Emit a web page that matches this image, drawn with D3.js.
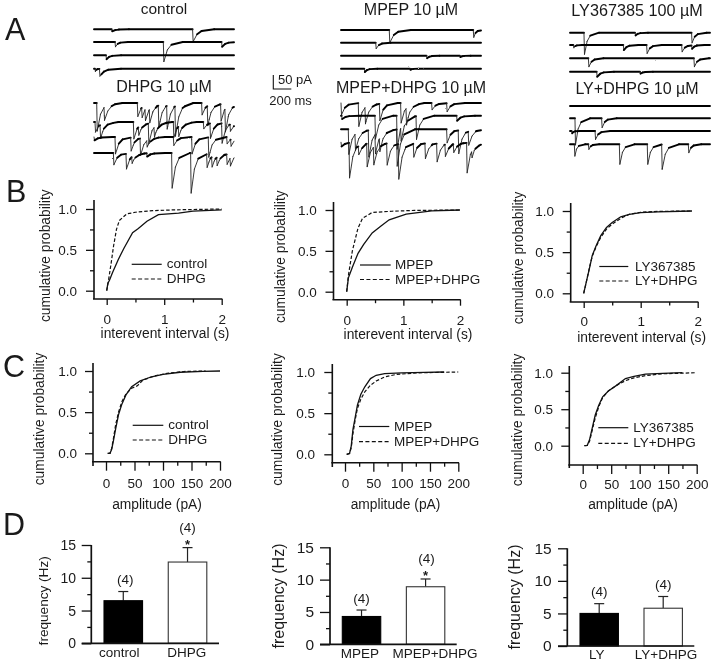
<!DOCTYPE html>
<html><head><meta charset="utf-8">
<script src="https://cdn.jsdelivr.net/npm/d3@7"></script>
<style>
html,body{margin:0;padding:0;background:#fff}
svg{display:block;filter:blur(.3px)}
text{font-family:"Liberation Sans",Arial,sans-serif;fill:#1a1a1a}
</style></head><body><div id="c"></div>
<script>
// ---- Panel A: synaptic events: [onset ms, peak pA, decay ms]
const controlTraces=[[[196,7,80],[1095,44,100]],[[233,17,60],[770,70,90],[1417,17,80]],[[133,14,70]],[[10,10,30],[60,26,100]]];
const dhpgTraces=[
 [[30,100],[111,48],[481,48],[529,36],[566,42],[614,48],[714,77],[807,83],[899,107],[1195,42],[1258,71],[1406,60],[1454,83]],
 [[11,36],[67,48],[437,60],[492,30],[603,71],[666,36],[881,54],[936,36],[1214,24],[1288,54],[1417,71],[1510,24]],
 [[0,12],[233,60],[407,48],[511,60],[585,24],[881,30],[1084,60],[1269,71],[1473,24],[1517,24]],
 [[215,42],[355,54],[418,24],[585,12],[862,125],[1073,143],[1251,48],[1306,36],[1362,30],[1473,36],[1510,30]]];
const mpepTraces=[[[536,45,100],[1469,26,50]],[[385,21,70]],[[950,9,60],[1320,5,50]],[[259,12,60],[766,4,40]]];
const mpepDhpgTraces=[
 [[0,42],[192,83],[266,60],[426,60],[662,71],[722,60],[1006,24],[1173,30]],
 [[7,12],[377,83],[618,119],[662,48],[833,83],[1284,18]],
 [[81,89],[155,60],[303,95],[377,71],[426,48],[618,131],[1173,48],[1302,83],[1413,48]],
 [[0,15],[89,125],[192,30],[285,83],[359,65],[507,77],[636,125],[803,48],[932,54],[1062,65],[1154,42],[1247,30],[1395,107],[1450,24]]];
const lyTraces=[[[155,77,70],[722,10,60],[1350,36,70]],[[37,10,40],[592,18,70],[851,30,70],[1240,24,70],[1350,12,60]],[[204,30,70],[1376,30,70]],[[296,18,80],[777,7,60]]];
const lyDhpgTraces=[[],[[55,95,70],[351,33,70]],[[18,8,40],[278,30,70]],[[48,42,50],[204,18,50],[548,71,70],[858,71,70],[1018,89,80],[1314,30,60]]];

// ---- Panels B: cumulative interevent interval [s, P]
const intControl=[[0,0],[.02,.09],[.05,.13],[.1,.22],[.2,.38],[.3,.52],[.45,.71],[.55,.76],[.7,.85],[.9,.93],[1.25,.95],[1.5,.975],[2,.99]];
const intDhpg=[[0,0],[.03,.12],[.08,.35],[.12,.55],[.17,.75],[.22,.86],[.35,.94],[.5,.96],[.8,.98],[1.2,.99],[2,1]];
const intMpep=[[0,0],[.03,.17],[.1,.3],[.2,.47],[.3,.58],[.45,.72],[.6,.8],[.75,.88],[1.05,.95],[1.5,.99],[2,1]];
const intMpepDhpg=[[0,0],[.03,.2],[.1,.5],[.2,.78],[.28,.9],[.45,.97],[.8,.985],[1.2,.995],[2,1]];
const intLy=[[0,0],[.05,.15],[.1,.3],[.15,.46],[.22,.58],[.3,.7],[.4,.8],[.5,.86],[.65,.93],[.8,.96],[1,.98],[1.3,.99],[1.9,1]];
const intLyDhpg=[[0,0],[.05,.15],[.1,.31],[.15,.45],[.22,.57],[.3,.68],[.4,.78],[.5,.84],[.65,.91],[.8,.96],[1,.985],[1.3,.995],[1.9,1]];

// ---- Panels C: cumulative amplitude [pA, P]
const ampControl=[[3,0],[7,0],[10,.05],[13,.15],[17,.3],[22,.47],[28,.6],[35,.71],[45,.81],[60,.88],[80,.93],[100,.96],[130,.985],[170,.995],[200,1]];
const ampDhpg=[[3,0],[7,0],[10,.06],[13,.18],[17,.35],[22,.5],[28,.63],[35,.72],[45,.79],[55,.82],[65,.89],[85,.94],[110,.975],[140,.995],[175,1]];
const ampMpep=[[3,0],[8,.01],[11,.1],[14,.3],[18,.45],[22,.6],[28,.73],[35,.82],[45,.92],[55,.96],[70,.98],[100,.99],[140,.995],[175,1]];
const ampMpepDhpg=[[3,0],[8,.01],[11,.08],[14,.25],[18,.42],[22,.56],[28,.67],[35,.76],[45,.84],[55,.89],[70,.94],[90,.97],[130,.99],[200,1]];
const ampLy=[[3,0],[8,.005],[12,.08],[17,.25],[22,.42],[28,.55],[35,.67],[45,.75],[60,.83],[75,.92],[90,.95],[110,.98],[140,.99],[175,1]];
const ampLyDhpg=[[3,0],[8,.005],[12,.06],[17,.22],[22,.38],[28,.53],[35,.66],[45,.75],[60,.83],[75,.89],[90,.93],[110,.96],[140,.985],[200,1]];

// ---- Panels D
const freqCats1=["control","DHPG"],freqVals1=[6.5,12.4],freqErr1=[7.9,14.6];
const freqCats2=["MPEP","MPEP+DHPG"],freqVals2=[4.3,8.9],freqErr2=[5.3,10.1];
const freqCats3=["LY","LY+DHPG"],freqVals3=[5.0,5.8],freqErr3=[6.5,7.6];

const svg=d3.select("#c").append("svg").attr("width",711).attr("height",665).attr("viewBox","0 0 711 665");
const defs=svg.append("defs");
const flt=defs.append("filter").attr("id","rough").attr("x","-5%").attr("y","-10%").attr("width","110%").attr("height","120%");
flt.append("feTurbulence").attr("type","fractalNoise").attr("baseFrequency",.4).attr("numOctaves",2).attr("seed",4).attr("result","n");
flt.append("feDisplacementMap").attr("in","SourceGraphic").attr("in2","n").attr("scale",1.4);

const INK="#111";
const txt=(g,x,y,s,size,anchor)=>g.append("text").attr("x",x).attr("y",y).attr("font-size",size).attr("text-anchor",anchor||"start").text(s);

// letters
[["A",5,40],["B",6,201.5],["C",3,376.5],["D",3,535]].forEach(d=>txt(svg,d[1],d[2],d[0],30.5).attr("fill","#2a2a2a"));

// ---- traces
const tScale=d3.scaleLinear().domain([0,1555]);   // 200 ms = 18 px
const pxPerPa=14/50;
function sweep(events){
  const knots=new Set([0,1555]);
  const shapes=events.map(([t,a,dec=85])=>{
    const xs=[t,t+6,t+.5*dec,t+dec,t+2.4*dec];
    xs.forEach(k=>{if(k<=1555)knots.add(k)});
    return d3.scaleLinear().domain(xs).range([0,a,.4*a,.14*a,0]).clamp(true);
  });
  return [...knots].sort(d3.ascending).map(k=>[k,d3.sum(shapes,s=>s(k))]);
}
function tracePanel(list,x0,bases,title,titleX,titleY,titleSize){
  const x=tScale.copy().range([x0,x0+140]);
  txt(svg,titleX,titleY,title,titleSize,"middle");
  const g=svg.append("g").attr("filter","url(#rough)");
  list.forEach((ev,i)=>{
    const y=d3.scaleLinear().domain([0,50]).range([bases[i],bases[i]+50*pxPerPa]);
    const pts=sweep(ev);
    d3.pairs(pts).forEach(([a,b])=>{
      const steep=Math.abs(y(b[1])-y(a[1]))/Math.max(.01,x(b[0])-x(a[0]))>1.2;
      g.append("path").attr("d",d3.line().x(d=>x(d[0])).y(d=>y(d[1]))([a,b]))
       .attr("fill","none").attr("stroke",steep?"#222":"#000").attr("stroke-width",steep?.9:1.9).attr("stroke-linecap","round");
    });
  });
}
tracePanel(controlTraces,94,[29.3,42,55.3,68.7],"control",164,14,15.5);
tracePanel(dhpgTraces,94,[103,122,137,153],"DHPG 10 µM",164,92,16);
tracePanel(mpepTraces,341,[30,42.7,55.7,68.7],"MPEP 10 µM",411,15,16);
tracePanel(mpepDhpgTraces,341,[103,115.7,129.3,142.3],"MPEP+DHPG 10 µM",411,93,16);
tracePanel(lyTraces,570,[32.7,45,58.3,71.7],"LY367385 100 µM",637,16,16.2);
tracePanel(lyDhpgTraces,570,[106,118.3,131,144.3],"LY+DHPG 10 µM",637,94,16);

// scale bar
{
  const x=tScale.copy().range([273.3,273.3+140]);
  const y=d3.scaleLinear().domain([0,50]).range([89,75]);
  svg.append("path").attr("d",d3.line()([[x(0),y(50)],[x(0),y(0)],[x(200),y(0)]])).attr("fill","none").attr("stroke",INK).attr("stroke-width",1.1);
  txt(svg,278,84,"50 pA",13);
  txt(svg,290.5,104.5,"200 ms",13,"middle");
}

// ---- cumulative panels
function cdf(c){
  const x=d3.scaleLinear().domain(c.xDom).range([c.x0,c.x1]);
  const y=d3.scaleLinear().domain([0,1]).range([c.y0,c.y1]);
  const g=svg.append("g");
  const ax=g.append("g").attr("transform",`translate(0,${c.base})`);
  ax.call(d3.axisBottom(x).tickValues(c.minorX).tickSize(c.minorLen).tickFormat(""));
  const am=g.append("g").attr("transform",`translate(0,${c.base})`);
  am.call(d3.axisBottom(x).tickValues(c.majorX).tickSize(c.majorLen).tickFormat(d3.format("d")));
  am.selectAll("text").attr("y",null).attr("dy",null).attr("transform",`translate(0,${c.tickY-c.base})`).attr("font-size",13.5);
  const ay=g.append("g").attr("transform",`translate(${c.ax},0)`);
  ay.call(d3.axisLeft(y).tickValues([.25,.75]).tickSize(4).tickFormat(""));
  const ayM=g.append("g").attr("transform",`translate(${c.ax},0)`);
  ayM.call(d3.axisLeft(y).tickValues([0,.5,1]).tickSize(8).tickFormat(d3.format(".1f")));
  ayM.selectAll("text").attr("x",null).attr("text-anchor","end").attr("transform",`translate(${c.lbl-c.ax},0)`).attr("font-size",13.5);
  g.selectAll(".domain").remove();
  g.selectAll("line").attr("stroke",INK).attr("stroke-width",1.3);
  g.append("line").attr("x1",c.ax).attr("x2",c.ax).attr("y1",c.top).attr("y2",c.axBot).attr("stroke",INK).attr("stroke-width",1.6);
  g.append("line").attr("x1",c.ax-1).attr("x2",c.x1+.7).attr("y1",c.base).attr("y2",c.base).attr("stroke",INK).attr("stroke-width",1.6);
  const line=d3.line().x(d=>x(d[0])).y(d=>y(d[1]));
  g.append("path").attr("d",line(c.dash)).attr("fill","none").attr("stroke",INK).attr("stroke-width",1.2).attr("stroke-dasharray","3.5 2");
  g.append("path").attr("d",line(c.solid)).attr("fill","none").attr("stroke",INK).attr("stroke-width",1.3);
  g.append("line").attr("x1",c.lx0).attr("x2",c.lx1).attr("y1",c.ly[0]).attr("y2",c.ly[0]).attr("stroke",INK).attr("stroke-width",1.2);
  g.append("line").attr("x1",c.lx0).attr("x2",c.lx1).attr("y1",c.ly[1]).attr("y2",c.ly[1]).attr("stroke",INK).attr("stroke-width",1.2).attr("stroke-dasharray","4 2.4");
  txt(g,c.ltx,c.ly[0]+4,c.names[0],13.5);
  txt(g,c.ltx,c.ly[1]+4,c.names[1],13.5);
  txt(g,c.xlx,c.xly,c.xlabel,13.8,"middle");
  g.append("text").attr("transform",`translate(${c.ylx},${c.yly}) rotate(-90)`).attr("text-anchor","middle").attr("font-size",13.8).text("cumulative probability");
}
const bx={xDom:[0,2],majorX:[0,1,2],minorX:[.5,1.5],majorLen:6,minorLen:3.5,xlabel:"interevent interval (s)"};
const cx={xDom:[0,200],majorX:[0,50,100,150,200],minorX:[25,75,125,175],majorLen:9,minorLen:4,xlabel:"amplitude (pA)"};
cdf({...bx,x0:106.7,x1:221.7,y0:290.7,y1:209,base:299,ax:94,top:200,axBot:299,lbl:77,tickY:323.5,xlx:165,xly:337.5,ylx:50,yly:255.7,
 solid:intControl,dash:intDhpg,lx0:131.7,lx1:161.7,ly:[264.3,279],ltx:166.7,names:["control","DHPG"]});
cdf({...bx,x0:346.7,x1:460,y0:291.7,y1:210,base:299.7,ax:333.5,top:202,axBot:300,lbl:316.7,tickY:324.5,xlx:408,xly:339,ylx:285,yly:256.7,
 solid:intMpep,dash:intMpepDhpg,lx0:360,lx1:390.7,ly:[265,279.5],ltx:395,names:["MPEP","MPEP+DHPG"]});
cdf({...bx,x0:583.7,x1:697.7,y0:293.3,y1:211,base:302,ax:570.7,top:203,axBot:302,lbl:554,tickY:326,xlx:641.7,xly:341.5,ylx:523,yly:258,
 solid:intLy,dash:intLyDhpg,lx0:599.3,lx1:628.3,ly:[266.5,281],ltx:635,names:["LY367385","LY+DHPG"]});
cdf({...cx,x0:106,x1:220,y0:453.3,y1:371,base:461.7,ax:93,top:363,axBot:466,lbl:77,tickY:488,xlx:157,xly:509,ylx:44,yly:419,
 solid:ampControl,dash:ampDhpg,lx0:132.7,lx1:163.3,ly:[425.3,440],ltx:168.3,names:["control","DHPG"]});
cdf({...cx,x0:345,x1:458.3,y0:454.3,y1:372,base:462.7,ax:332.3,top:364,axBot:467,lbl:315,tickY:488,xlx:395.5,xly:509,ylx:282,yly:419.5,
 solid:ampMpep,dash:ampMpepDhpg,lx0:359,lx1:389.3,ly:[426.5,441.7],ltx:394,names:["MPEP","MPEP+DHPG"]});
cdf({...cx,x0:582.7,x1:696.7,y0:445.7,y1:372.7,base:465,ax:569.3,top:366,axBot:468,lbl:553,tickY:489,xlx:633,xly:509,ylx:521.7,yly:420,
 solid:ampLy,dash:ampLyDhpg,lx0:598.3,lx1:628.3,ly:[427.7,443.3],ltx:633.3,names:["LY367385","LY+DHPG"]});

// ---- bar panels
function bars(c){
  const x=d3.scaleBand().domain(c.cats).range(c.bandRange).paddingInner(.4).paddingOuter(0);
  const y=d3.scaleLinear().domain([0,15]).range([c.y0,c.y15]);
  const g=svg.append("g");
  g.append("g").attr("transform",`translate(${c.ax},0)`).call(d3.axisLeft(y).tickValues([2.5,7.5,12.5]).tickSize(4).tickFormat(""));
  const a=g.append("g").attr("transform",`translate(${c.ax},0)`).call(d3.axisLeft(y).tickValues([0,5,10,15]).tickSize(c.ax-c.left).tickFormat(d3.format("d")));
  a.selectAll("text").attr("x",null).attr("text-anchor","end").attr("transform",`translate(${c.lbl-c.ax},0)`).attr("font-size",c.tickSize);
  g.selectAll(".domain").remove();
  g.selectAll("line").attr("stroke",INK).attr("stroke-width",1.3);
  g.append("line").attr("x1",c.ax).attr("x2",c.ax).attr("y1",c.y15).attr("y2",c.y0).attr("stroke",INK).attr("stroke-width",1.7);
  c.cats.forEach((k,i)=>{
    const mid=x(k)+x.bandwidth()/2;
    g.append("line").attr("x1",mid).attr("x2",mid).attr("y1",y(c.vals[i])).attr("y2",y(c.err[i])).attr("stroke","#222").attr("stroke-width",1.2);
    g.append("line").attr("x1",mid-5).attr("x2",mid+5).attr("y1",y(c.err[i])).attr("y2",y(c.err[i])).attr("stroke","#222").attr("stroke-width",1.2);
    g.append("rect").attr("x",x(k)).attr("y",y(c.vals[i])).attr("width",x.bandwidth()).attr("height",y(0)-y(c.vals[i]))
     .attr("fill",i?"#fff":"#000").attr("stroke",i?"#333":"#000").attr("stroke-width",1.1);
    const st=c.star[i];
    txt(g,mid+c.nDx[i],y(c.err[i])-(st?15.5:7.5),"(4)",13.5,"middle");
    if(st) txt(g,mid,y(c.err[i])+1.5,"*",13,"middle").attr("font-weight","bold");
    txt(g,c.labX[i],c.labY,k,13.5,"middle");
  });
  g.append("line").attr("x1",c.left).attr("x2",c.right).attr("y1",c.y0).attr("y2",c.y0).attr("stroke",INK).attr("stroke-width",1.7);
  g.append("text").attr("transform",`translate(${c.ylx},${c.yly}) rotate(-90)`).attr("text-anchor","middle").attr("font-size",c.ySize).text("frequency (Hz)");
}
bars({cats:freqCats1,vals:freqVals1,err:freqErr1,bandRange:[104,206.8],y0:643.3,y15:545,ax:91.3,left:81.7,right:219,lbl:76,tickSize:14,
 star:[0,1],nDx:[2,0],labX:[119.3,186.7],labY:656.7,ylx:48,yly:600.8,ySize:13.6});
bars({cats:freqCats2,vals:freqVals2,err:freqErr2,bandRange:[342.3,444.8],y0:644.3,y15:547.3,ax:330,left:320,right:456.7,lbl:314,tickSize:15.5,
 star:[0,1],nDx:[0,1],labX:[360,435],labY:658,ylx:284,yly:596,ySize:16});
bars({cats:freqCats3,vals:freqVals3,err:freqErr3,bandRange:[580,682.4],y0:646,y15:548.3,ax:567.3,left:558,right:694.3,lbl:551.7,tickSize:15.5,
 star:[0,0],nDx:[0,0],labX:[596.7,666],labY:659.3,ylx:520,yly:597,ySize:16});
</script></body></html>
